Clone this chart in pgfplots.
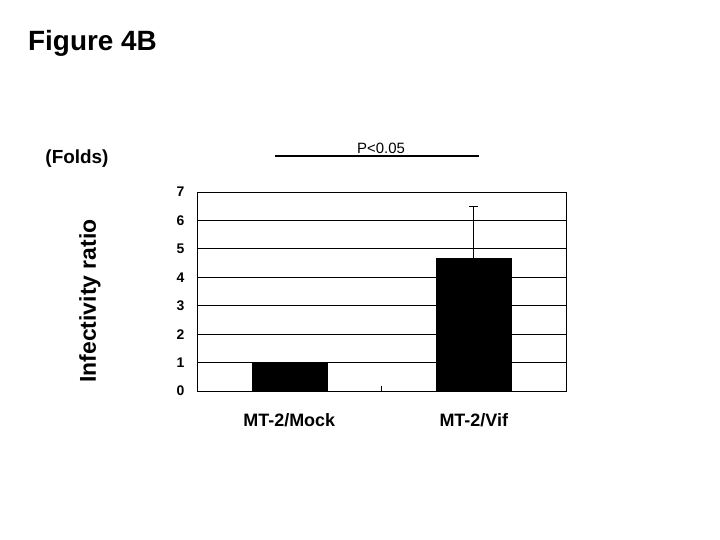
\documentclass[border=0pt]{standalone}
\usepackage{fontspec}
\setmainfont{Liberation Sans}
\usepackage{pgfplots}
\pgfplotsset{compat=1.18}

\begin{document}
\begin{tikzpicture}
  \useasboundingbox (0,0) rectangle (720bp,540bp);

  % titles and labels outside the axis
  \node[anchor=base west, inner sep=0pt, font=\bfseries\fontsize{28}{28}\selectfont]
    at (28bp,489bp) {Figure 4B};
  \node[inner sep=0pt, font=\bfseries\fontsize{19}{19}\selectfont]
    at (77bp,381bp) {(Folds)};
  \node[rotate=90, inner sep=0pt, font=\bfseries\fontsize{23}{23}\selectfont]
    at (90bp,239bp) {Infectivity ratio};

  % significance bar
  \draw[line width=1.8pt] (275bp,384bp) -- (479bp,384bp);
  \node[inner sep=0pt, font=\fontsize{15}{15}\selectfont]
    at (381bp,392bp) {P<0.05};

  \begin{axis}[
      at={(197bp,149bp)}, anchor=south west,
      scale only axis,
      width=369bp, height=199bp,
      xmin=-0.5, xmax=1.5,
      ymin=0, ymax=7,
      ybar, bar width=75bp, bar shift=0pt,
      xtick={0,1},
      xticklabels={MT-2/Mock, MT-2/Vif},
      extra x ticks={0.5},
      extra x tick labels={},
      extra x tick style={major tick length=5bp, tick align=inside},
      ytick={0,1,...,7},
      ymajorgrids=true,
      grid style={black, line width=0.8pt},
      major tick length=0pt,
      tick pos=left,
      tick style={black, line width=0.8pt},
      axis line style={line width=0.8pt},
      /pgf/number format/assume math mode=true,
      yticklabel style={font=\bfseries\fontsize{14}{14}\selectfont, xshift=-9bp},
      xticklabel style={font=\bfseries\fontsize{18}{18}\selectfont, yshift=-19bp},
    ]
    % MT-2/Mock (reference, = 1)
    \addplot[fill=black, draw=black] coordinates {(0,1)};
    % MT-2/Vif with upper error bar
    \addplot[fill=black, draw=black,
      error bars/.cd, y dir=plus, y explicit,
      error bar style={draw=black, line width=0.8pt},
      error mark options={rotate=90, draw=black, line width=0.8pt, mark size=4.5bp}]
      coordinates {(1,4.67) +- (0,1.81)};
  \end{axis}
\end{tikzpicture}
\end{document}
